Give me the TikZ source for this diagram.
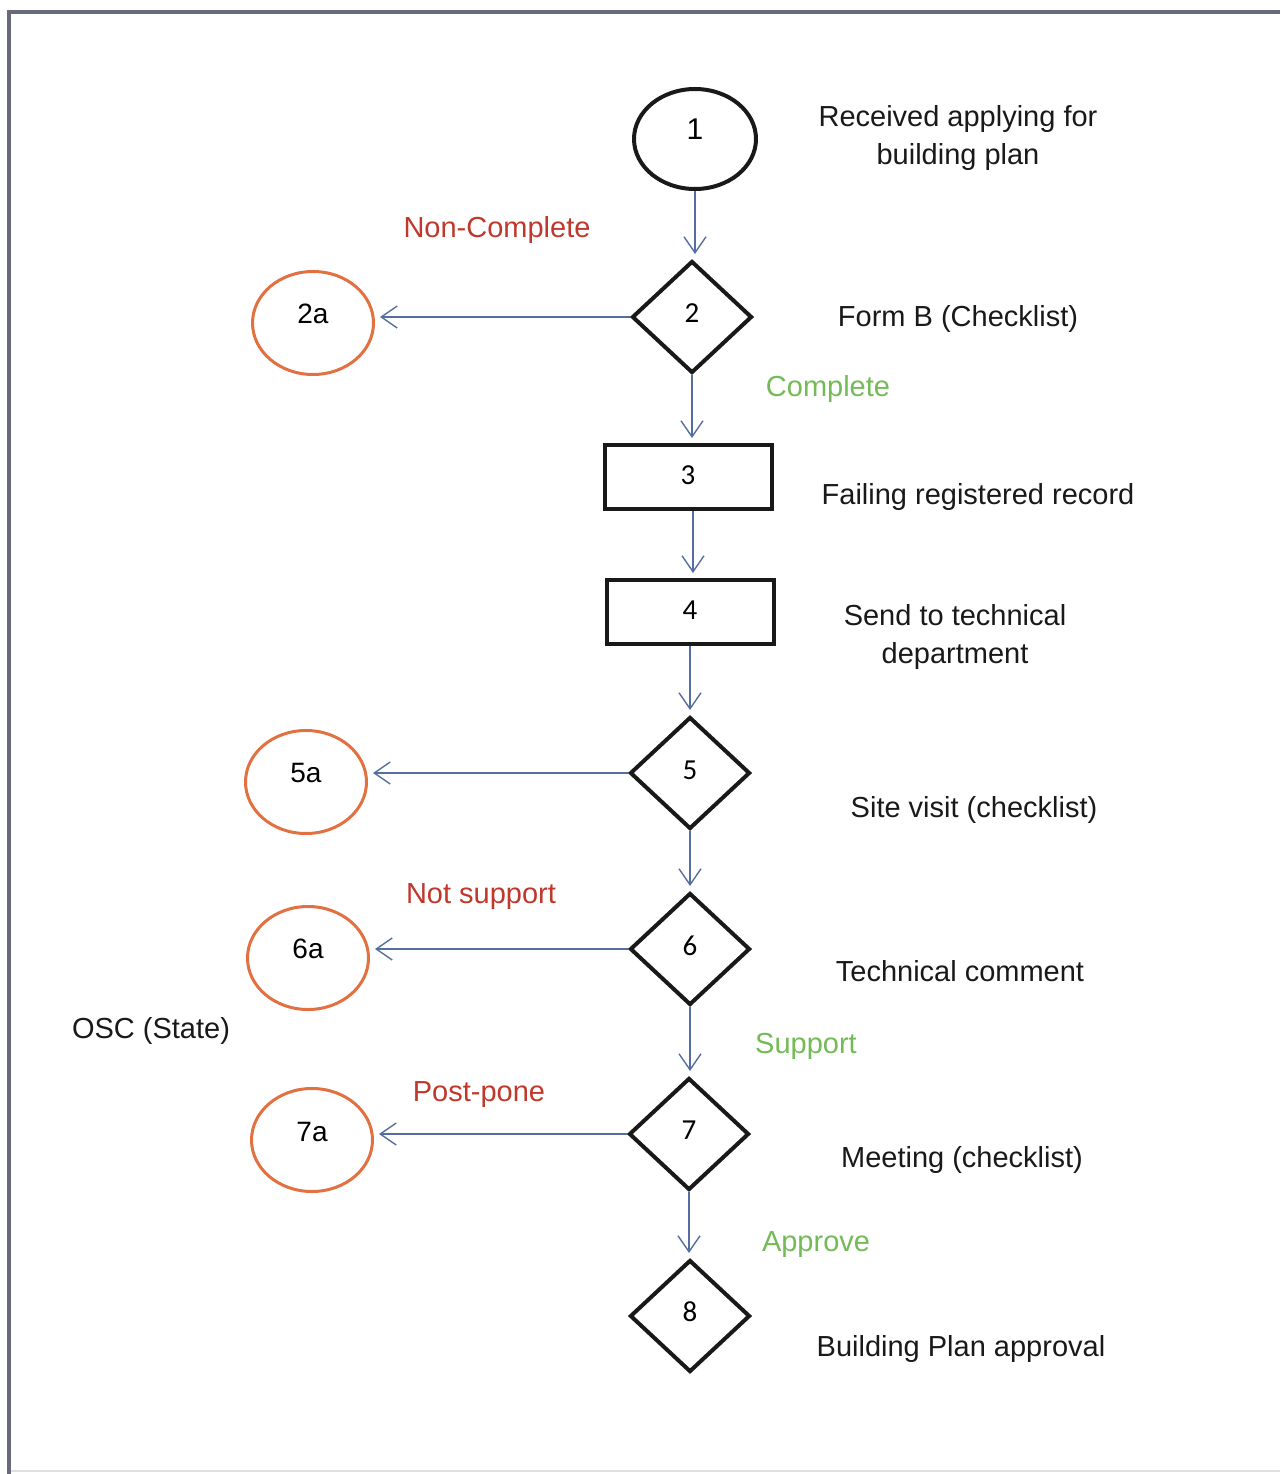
\documentclass[tikz,border=0pt]{standalone}
\usepackage{fontspec}
\setmainfont{Liberation Sans}
\newfontfamily\numfont{Carlito}
\usetikzlibrary{shapes.geometric,arrows.meta}
\definecolor{arrowblue}{RGB}{85,110,160}
\definecolor{orng}{RGB}{226,112,64}
\definecolor{redlab}{RGB}{192,56,44}
\definecolor{greenlab}{RGB}{116,186,86}
\definecolor{framegray}{RGB}{105,105,125}
\definecolor{txt}{RGB}{25,25,25}
\newcommand\liftby[2]{\raisebox{#1pt}{#2}}
\begin{document}
\begin{tikzpicture}[x=1pt,y=-1pt,
  mainline/.style={draw=black!90, line width=4pt, inner sep=0pt},
  startnode/.style={mainline, ellipse, minimum width=122pt, minimum height=100pt, font=\fontsize{30}{30}\selectfont},
  decision/.style={mainline, diamond, minimum width=120pt, minimum height=112pt, font=\numfont\fontsize{29}{29}\selectfont},
  process/.style={mainline, rectangle, minimum width=167pt, minimum height=64pt, font=\numfont\fontsize{29}{29}\selectfont},
  endnode/.style={draw=orng, line width=3pt, ellipse, inner sep=0pt, minimum width=121pt, minimum height=103pt, font=\fontsize{28}{28}\selectfont},
  lab/.style={font=\fontsize{29}{38}\selectfont, align=center, text=txt, inner sep=0pt},
  nolab/.style={font=\fontsize{29}{38}\selectfont, text=redlab, inner sep=0pt},
  yeslab/.style={font=\fontsize{29}{38}\selectfont, text=greenlab, inner sep=0pt},
  flow/.style={draw=arrowblue, line width=1.4pt, -{Straight Barb[length=16pt,width=22pt,line width=1.4pt]}, shorten >=5pt}
]
\useasboundingbox (0,0) rectangle (1280,1474);
% frame
\draw[framegray, line width=4pt] (9,1474) -- (9,12) -- (1280,12);
\draw[black!12, line width=2pt] (11,1471) -- (1280,1471);

% main nodes
\node[startnode] (n1) at (695,139) {\liftby{20}{1}};
\node[decision] (n2) at (692,317) {\liftby{8}{2}};
\node[process] (n3) at (688,477) {\liftby{4}{3}};
\node[process] (n4) at (690,612) {\liftby{4}{4}};
\node[decision] (n5) at (690,773) {\liftby{6}{5}};
\node[decision] (n6) at (690,949) {\liftby{6}{6}};
\node[decision] (n7) at (689,1134) {\liftby{8}{7}};
\node[decision] (n8) at (690,1316) {\liftby{8}{8}};

% side nodes
\node[endnode] (e2a) at (313,323) {\liftby{18}{2a}};
\node[endnode] (e5a) at (306,782) {\liftby{18}{5a}};
\node[endnode] (e6a) at (308,958) {\liftby{18}{6a}};
\node[endnode] (e7a) at (312,1140) {\liftby{16}{7a}};

% vertical flow
\draw[flow] (n1.south) -- (n1.south |- n2.north);
\draw[flow] (n2.south) -- (n2.south |- n3.north);
\coordinate (c34) at (693,511);
\draw[flow] (c34) -- (c34 |- n4.north);
\draw[flow] (n4.south -| n5) -- (n5.north);
\draw[flow] (n5.south) -- (n5.south |- n6.north);
\draw[flow] (n6.south) -- (n6.south |- n7.north);
\draw[flow] (n7.south) -- (n7.south |- n8.north);

% side flow
\draw[flow] (n2.west) -- (n2.west -| e2a.east);
\draw[flow] (n5.west) -- (n5.west -| e5a.east);
\draw[flow] (n6.west) -- (n6.west -| e6a.east);
\draw[flow] (n7.west) -- (n7.west -| e7a.east);

% descriptions
\node[lab] (t1) at (958,138) {Received applying for\\building plan};
\node[lab] (t2) at (958,319) {Form B (Checklist)};
\node[lab] (t3) at (978,497) {Failing registered record};
\node[lab] (t4) at (955,637) {Send to technical\\department};
\node[lab] (t5) at (974,810) {Site visit (checklist)};
\node[lab] (t6) at (960,971) {Technical comment};
\node[lab] (t7) at (962,1160) {Meeting (checklist)};
\node[lab] (t8) at (961,1349) {Building Plan approval};
\node[lab] (tosc) at (151,1031) {OSC (State)};

% branch labels
\node[nolab] (l2no) at (497,230) {Non-Complete};
\node[yeslab] (l2yes) at (828,389) {Complete};
\node[nolab] (l6no) at (481,897) {Not support};
\node[yeslab] (l6yes) at (806,1046) {Support};
\node[nolab] (l7no) at (479,1095) {Post-pone};
\node[yeslab] (l7yes) at (816,1245) {Approve};
\end{tikzpicture}
\end{document}
